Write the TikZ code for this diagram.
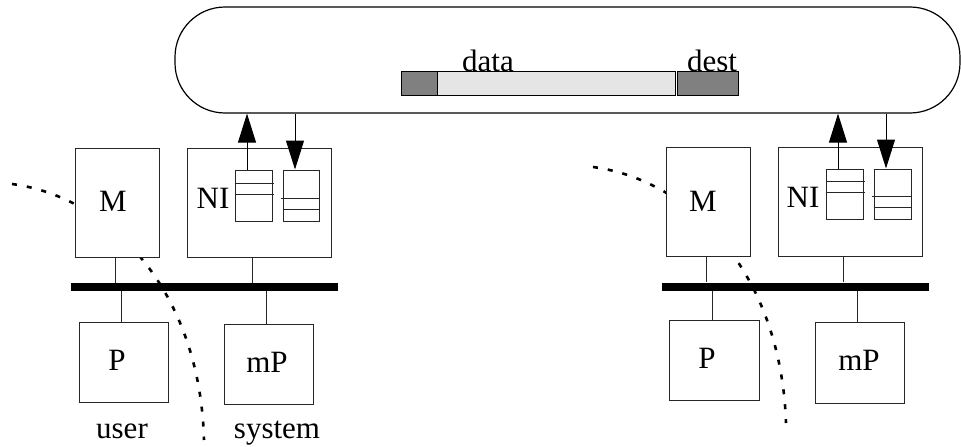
\documentclass[tikz,border=0pt]{standalone}
\usepackage{fontspec}
\setmainfont{Liberation Serif}
\usetikzlibrary{arrows.meta}
\begin{document}
\begin{tikzpicture}[x=1pt,y=-1pt,
  box/.style={draw=black!85,line width=1pt,fill=white,inner sep=0pt},
  txt/.style={inner sep=0pt,anchor=base,font=\fontsize{31pt}{36pt}\selectfont},
  bus/.style={fill=black,inner sep=0pt,minimum height=8pt},
  link/.style={draw=black!85,line width=1pt},
  pkt/.style={draw,line width=0.8pt,minimum height=24pt,inner sep=0pt},
  arr/.style={draw=black,line width=1pt,-{Triangle[length=29pt,width=18pt]}},
  boundary/.style={line width=2.6pt,dash pattern=on 5pt off 10pt}]
\useasboundingbox (0,0) rectangle (961,447);
% boundaries (drawn first, hidden behind memory boxes)
\coordinate (b1s) at (12,184);
\coordinate (b1e) at (204,440);
\coordinate (b2s) at (593,167);
\coordinate (b2e) at (786,423);
\draw[boundary] (b1s) .. controls (110,197) and (200,290) .. (b1e);
\draw[boundary] (b2s) .. controls (691,180) and (781,273) .. (b2e);
% ring
\node[draw,line width=1.2pt,rounded corners=50pt,minimum width=785pt,minimum height=106pt,inner sep=0pt] (ring) at (567.5,60) {};
% packet
\node[pkt,fill=black!50,minimum width=36pt] (pa) at (419,83) {};
\node[pkt,fill=black!10,minimum width=238pt] (pb) at (556,83) {};
\node[pkt,fill=black!50,minimum width=61pt] (pc) at (707.5,83) {};
\node[txt] (tdata) at (488,71.5) {data};
\node[txt] (tdest) at (712,71.5) {dest};
% ---------- left node ----------
\node[box,minimum width=84pt,minimum height=109pt] (M1) at (117,202.5) {};
\node[box,minimum width=144pt,minimum height=109pt] (NI1) at (259,202.5) {};
\node[box,minimum width=37pt,minimum height=51pt] (qa1) at (253.5,195.5) {};
\node[box,minimum width=36pt,minimum height=51pt] (qb1) at (301,195.5) {};
\node[bus,minimum width=267pt] (bus1) at (204.5,287) {};
\node[box,minimum width=89pt,minimum height=80pt] (P1) at (123.5,362) {};
\node[box,minimum width=89pt,minimum height=80pt] (mP1) at (268.5,364) {};
\draw[link] (qa1.west |- 0,183) -- ([xshift=1pt]qa1.east |- 0,183);
\draw[link] (qa1.west |- 0,194) -- ([xshift=1pt]qa1.east |- 0,194);
\draw[link] ([xshift=-2pt]qb1.west |- 0,198) -- (qb1.east |- 0,198);
\draw[link] (qb1.west |- 0,209) -- (qb1.east |- 0,209);
\node[txt] (tM1) at (113,211) {M};
\node[txt] (tNI1) at (213,208) {NI};
\node[txt] (tP1) at (117,370) {P};
\node[txt] (tmP1) at (267,372) {mP};
\node[txt] (tuser) at (122,438) {user};
\node[txt] (tsys) at (277,438) {system};
\draw[link] ([xshift=-2pt]M1.south) -- ([xshift=-2pt]M1.south |- bus1.north);
\draw[link] ([xshift=-7pt]NI1.south) -- ([xshift=-7pt]NI1.south |- bus1.north);
\draw[link] ([xshift=-2.5pt]P1.north) -- ([xshift=-2.5pt]P1.north |- bus1.south);
\draw[link] ([xshift=-2.5pt]mP1.north) -- ([xshift=-2.5pt]mP1.north |- bus1.south);
\draw[arr] ([xshift=-6.5pt]qa1.north) -- ([xshift=-6.5pt]qa1.north |- ring.south);
\draw[arr] ([xshift=-6pt]qb1.north |- ring.south) -- ([xshift=-6pt]qb1.north);
% ---------- right node ----------
\node[box,minimum width=84pt,minimum height=109pt] (M2) at (708,201.5) {};
\node[box,minimum width=144pt,minimum height=109pt] (NI2) at (850,201.5) {};
\node[box,minimum width=37pt,minimum height=50pt] (qa2) at (844.5,194) {};
\node[box,minimum width=37pt,minimum height=50pt] (qb2) at (892.5,194) {};
\node[bus,minimum width=267pt] (bus2) at (795.5,286.5) {};
\node[box,minimum width=90pt,minimum height=80pt] (P2) at (714,360) {};
\node[box,minimum width=89pt,minimum height=81pt] (mP2) at (859.5,362.5) {};
\draw[link] (qa2.west |- 0,181) -- ([xshift=1pt]qa2.east |- 0,181);
\draw[link] (qa2.west |- 0,192) -- ([xshift=1pt]qa2.east |- 0,192);
\draw[link] ([xshift=-2pt]qb2.west |- 0,196) -- (qb2.east |- 0,196);
\draw[link] (qb2.west |- 0,207) -- (qb2.east |- 0,207);
\node[txt] (tM2) at (703,211) {M};
\node[txt] (tNI2) at (803,207) {NI};
\node[txt] (tP2) at (707,368) {P};
\node[txt] (tmP2) at (859,370) {mP};
\draw[link] ([xshift=-2pt]M2.south) -- ([xshift=-2pt]M2.south |- bus2.north);
\draw[link] ([xshift=-7pt]NI2.south) -- ([xshift=-7pt]NI2.south |- bus2.north);
\draw[link] ([xshift=-2pt]P2.north) -- ([xshift=-2pt]P2.north |- bus2.south);
\draw[link] ([xshift=-2.5pt]mP2.north) -- ([xshift=-2.5pt]mP2.north |- bus2.south);
\draw[arr] ([xshift=-6.5pt]qa2.north) -- ([xshift=-6.5pt]qa2.north |- ring.south);
\draw[arr] ([xshift=-6.5pt]qb2.north |- ring.south) -- ([xshift=-6.5pt]qb2.north);
\end{tikzpicture}
\end{document}
